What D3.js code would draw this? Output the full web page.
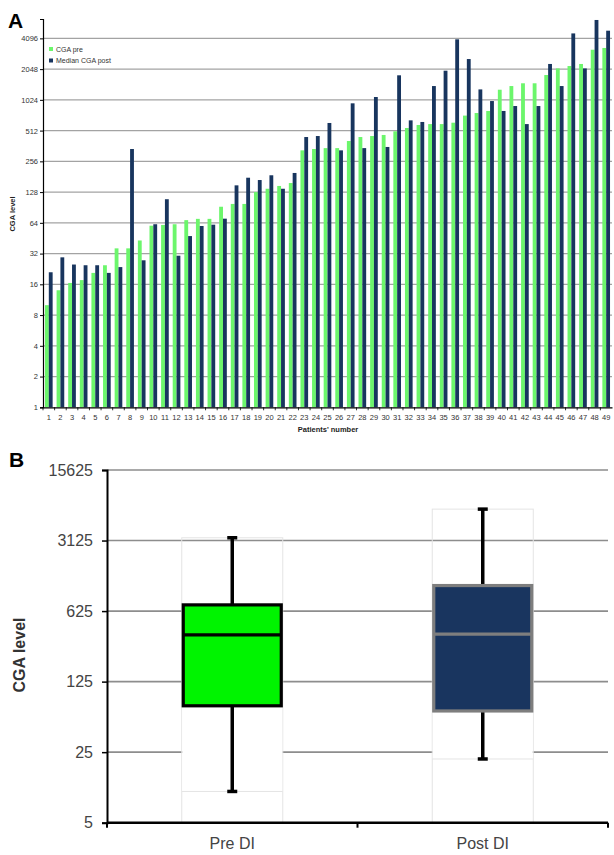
<!DOCTYPE html>
<html>
<head>
<meta charset="utf-8">
<script src="https://cdn.jsdelivr.net/npm/d3@7"></script>
<style>
  html, body { margin: 0; padding: 0; background: #fff; }
  svg { display: block; font-family: "Liberation Sans", Arial, sans-serif; }
</style>
</head>
<body>
<svg id="chart" width="614" height="855"></svg>
<script>
// ---------- Panel A data ----------
const patients = ["1","2","3","4","5","6","7","8","9","10","11","12","13","14","15","16","17","18","19","20",
  "21","22","23","24","25","26","27","28","29","30","31","32","33","34","35","36","37","38","39","40",
  "41","42","43","44","45","46","47","48","49"];
const cgaPre = [10, 14, 16.5, 17.6, 20.7, 24.6, 36, 36, 43, 60,
  61, 62, 68, 70, 70, 92, 98, 98, 128, 138,
  147, 157, 328, 338, 345, 345, 405, 443, 453, 464,
  504, 543, 581, 593, 593, 612, 718, 761, 797, 1287,
  1398, 1488, 1488, 1793, 2080, 2195, 2300, 3170, 3300];
const medianPost = [21, 29.4, 25, 24.6, 24.6, 20.7, 23.6, 338, 27.5, 62,
  109, 30.5, 47.5, 59.6, 61.4, 70.3, 149, 177, 168, 187,
  138, 197, 443, 453, 608, 328, 947, 345, 1092, 354,
  1781, 645, 622, 1398, 1976, 4010, 2570, 1296, 997, 797,
  891, 593, 891, 2300, 1398, 4580, 2080, 6200, 4870];
const seriesNames = ["CGA pre", "Median CGA post"];
const yTicksA = [1, 2, 4, 8, 16, 32, 64, 128, 256, 512, 1024, 2048, 4096];

// ---------- Panel B data ----------
const boxGroups = ["Pre DI", "Post DI"];
const boxMin = [10.2, 21.4];
const boxQ1 = [72, 64];
const boxMedian = [363, 370];
const boxQ3 = [720, 1119];
const boxMax = [3330, 6400];
const yTicksB = [5, 25, 125, 625, 3125, 15625];

const svg = d3.select("#chart");
const GREEN = "#6cf66c", NAVY = "#18355e";

// ================= Panel A =================
const A = { left: 43, right: 612, top: 19, bottom: 407.3 };
const xA = d3.scaleBand().domain(patients).range([A.left, A.right]).paddingInner(0.34).paddingOuter(0.17);
const xSub = d3.scaleBand().domain(seriesNames).range([0, xA.bandwidth()]);
const yA = d3.scaleLog().base(2).domain([1, Math.pow(2, 12.63)]).range([A.bottom, A.top]);

const gA = svg.append("g");
gA.append("g").selectAll("line").data(yTicksA.slice(1)).join("line")
  .attr("x1", A.left).attr("x2", A.right)
  .attr("y1", d => yA(d)).attr("y2", d => yA(d))
  .attr("stroke", "#a3a3a3").attr("stroke-width", 1.3);

const rowsA = patients.map((p, i) => ({ p, vals: [cgaPre[i], medianPost[i]] }));
const colorA = d3.scaleOrdinal().domain(seriesNames).range([GREEN, NAVY]);
gA.append("g").selectAll("g").data(rowsA).join("g")
  .attr("transform", d => `translate(${xA(d.p)},0)`)
  .selectAll("rect").data(d => d.vals.map((v, k) => ({ s: seriesNames[k], v })))
  .join("rect")
  .attr("x", d => xSub(d.s)).attr("width", xSub.bandwidth())
  .attr("y", d => yA(d.v)).attr("height", d => A.bottom - yA(d.v))
  .attr("fill", d => colorA(d.s));

const yAxisA = d3.axisLeft(yA).tickValues(yTicksA).tickFormat(d3.format("d")).tickSize(3).tickPadding(2);
const gyA = gA.append("g").attr("transform", `translate(${A.left},0)`).call(yAxisA);
gyA.select(".domain").attr("stroke", "#000").attr("stroke-width", 1.2);
gyA.selectAll(".tick line").attr("stroke", "#000");
gyA.selectAll("text").attr("font-size", 7.5).attr("fill", "#333");

const xAxisA = d3.axisBottom(xA).tickSize(0).tickPadding(7);
const gxA = gA.append("g").attr("transform", `translate(0,${A.bottom})`).call(xAxisA);
gxA.select(".domain").attr("stroke", "#000").attr("stroke-width", 1.2);
gxA.selectAll("text").attr("font-size", 7.5).attr("fill", "#333");
gxA.append("g").selectAll("line").data(patients).join("line")
  .attr("x1", d => xA(d) - xA.step() * xA.paddingInner() / 2)
  .attr("x2", d => xA(d) - xA.step() * xA.paddingInner() / 2)
  .attr("y1", 0).attr("y2", 3).attr("stroke", "#000").attr("stroke-width", 0.8);

const legA = gA.append("g").attr("transform", "translate(49,49)");
seriesNames.forEach((s, i) => {
  const r = legA.append("g").attr("transform", `translate(0,${i * 11.5})`);
  r.append("rect").attr("x", 0).attr("y", -2).attr("width", 4).attr("height", 4).attr("fill", colorA(s));
  r.append("text").attr("x", 7).attr("y", 2.5).attr("font-size", 7).attr("fill", "#333").text(s);
});

svg.append("text").attr("x", 8).attr("y", 28).attr("font-size", 21).attr("font-weight", "bold").text("A");
svg.append("text").attr("transform", "translate(15,214) rotate(-90)").attr("text-anchor", "middle")
  .attr("font-size", 7.5).attr("font-weight", "bold").attr("fill", "#222").text("CGA level");
svg.append("text").attr("x", 328).attr("y", 432).attr("text-anchor", "middle")
  .attr("font-size", 7.5).attr("font-weight", "bold").attr("fill", "#222").text("Patients' number");

// ================= Panel B =================
const B = { left: 107, right: 608, top: 470, bottom: 822.7 };
const xB = d3.scalePoint().domain(boxGroups).range([B.left, B.right]).padding(0.5);
const yB = d3.scaleLog().base(5).domain([5, 15625]).range([B.bottom, B.top]);
const boxW = 101;
const gB = svg.append("g");

gB.append("g").selectAll("line").data(yTicksB.slice(1)).join("line")
  .attr("x1", B.left).attr("x2", B.right)
  .attr("y1", d => yB(d)).attr("y2", d => yB(d))
  .attr("stroke", "#8d8d8d").attr("stroke-width", 1.6);

const boxes = boxGroups.map((g, i) => ({ g, min: boxMin[i], q1: boxQ1[i], med: boxMedian[i], q3: boxQ3[i], max: boxMax[i], i }));

gB.append("g").selectAll("rect").data(boxes).join("rect")
  .attr("x", d => xB(d.g) - boxW / 2).attr("width", boxW)
  .attr("y", d => yB(d.max)).attr("height", d => B.bottom - yB(d.max))
  .attr("fill", "none").attr("stroke", "#e4e4e4").attr("stroke-width", 1);
gB.append("g").selectAll("rect").data(boxes).join("rect")
  .attr("x", d => xB(d.g) - boxW / 2 + 0.5).attr("width", boxW - 1)
  .attr("y", d => yB(d.q1)).attr("height", d => yB(d.min) - yB(d.q1))
  .attr("fill", "#fff");
gB.append("g").selectAll("line").data(boxes).join("line")
  .attr("x1", d => xB(d.g) - boxW / 2).attr("x2", d => xB(d.g) + boxW / 2)
  .attr("y1", d => yB(d.min)).attr("y2", d => yB(d.min))
  .attr("stroke", "#e4e4e4").attr("stroke-width", 1);

const boxFill = ["#00f400", "#19355f"];
const boxStroke = ["#000", "#7e7e7e"];

const wg = gB.append("g");
wg.selectAll("line.w").data(boxes).join("line").attr("class", "w")
  .attr("x1", d => xB(d.g)).attr("x2", d => xB(d.g))
  .attr("y1", d => yB(d.max)).attr("y2", d => yB(d.min))
  .attr("stroke", "#000").attr("stroke-width", 3.5);
wg.selectAll("line.cmax").data(boxes).join("line").attr("class", "cmax")
  .attr("x1", d => xB(d.g) - 5).attr("x2", d => xB(d.g) + 5)
  .attr("y1", d => yB(d.max)).attr("y2", d => yB(d.max))
  .attr("stroke", "#000").attr("stroke-width", 3.5);
wg.selectAll("line.cmin").data(boxes).join("line").attr("class", "cmin")
  .attr("x1", d => xB(d.g) - 5).attr("x2", d => xB(d.g) + 5)
  .attr("y1", d => yB(d.min)).attr("y2", d => yB(d.min))
  .attr("stroke", "#000").attr("stroke-width", 3.5);

gB.append("g").selectAll("rect").data(boxes).join("rect")
  .attr("x", d => xB(d.g) - boxW / 2 + 1.5).attr("width", boxW - 3)
  .attr("y", d => yB(d.q3)).attr("height", d => yB(d.q1) - yB(d.q3))
  .attr("fill", d => boxFill[d.i]).attr("stroke", d => boxStroke[d.i]).attr("stroke-width", 3.2);
gB.append("g").selectAll("line").data(boxes).join("line")
  .attr("x1", d => xB(d.g) - boxW / 2 + 1.5).attr("x2", d => xB(d.g) + boxW / 2 - 1.5)
  .attr("y1", d => yB(d.med)).attr("y2", d => yB(d.med))
  .attr("stroke", d => boxStroke[d.i]).attr("stroke-width", 3.2);

const yAxisB = d3.axisLeft(yB).tickValues(yTicksB).tickFormat(d3.format("d")).tickSize(5).tickPadding(9);
const gyB = gB.append("g").attr("transform", `translate(${B.left},0)`).call(yAxisB);
gyB.select(".domain").attr("stroke", "#000").attr("stroke-width", 2);
gyB.selectAll(".tick line").attr("stroke", "#000").attr("stroke-width", 1.5);
gyB.selectAll("text").attr("font-size", 16).attr("fill", "#444");

const gxB = gB.append("g").attr("transform", `translate(0,${B.bottom})`);
gxB.append("line").attr("x1", B.left).attr("x2", B.right).attr("stroke", "#000").attr("stroke-width", 2.5);
gxB.selectAll("line.t").data([B.left, (B.left + B.right) / 2, B.right]).join("line").attr("class", "t")
  .attr("x1", d => d).attr("x2", d => d).attr("y1", 0).attr("y2", 5)
  .attr("stroke", "#000").attr("stroke-width", 2);
gxB.selectAll("text").data(boxGroups).join("text")
  .attr("x", d => xB(d)).attr("y", 26).attr("text-anchor", "middle")
  .attr("font-size", 16).attr("fill", "#444").text(d => d);

svg.append("text").attr("x", 9).attr("y", 467).attr("font-size", 21).attr("font-weight", "bold").text("B");
svg.append("text").attr("transform", "translate(25,655) rotate(-90)").attr("text-anchor", "middle")
  .attr("font-size", 16).attr("font-weight", "bold").attr("fill", "#333").text("CGA level");
</script>
</body>
</html>
